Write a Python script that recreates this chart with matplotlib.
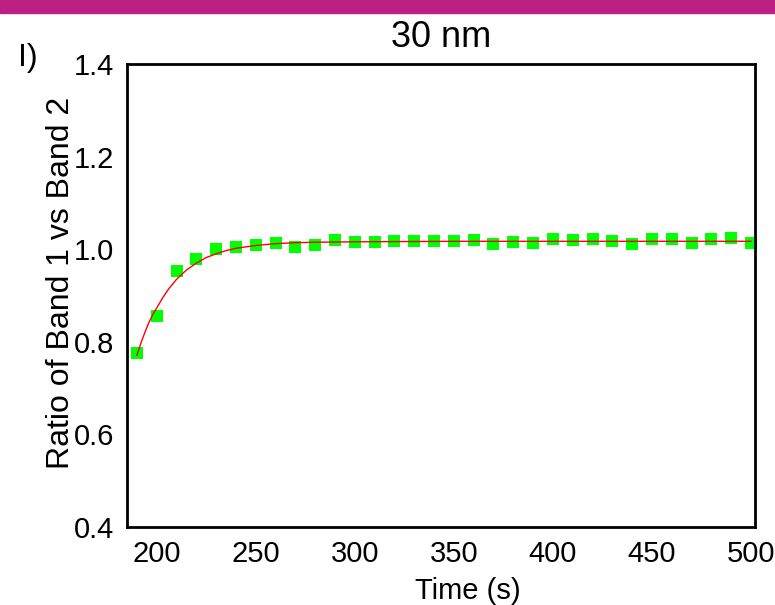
import matplotlib
matplotlib.use("Agg")
import matplotlib.pyplot as plt
from matplotlib.patches import Rectangle

plt.rcParams['font.family'] = ['Liberation Sans', 'DejaVu Sans']

# Data
time_s = [190, 200, 210, 220, 230, 240, 250, 260, 270, 280, 290, 300, 310, 320,
          330, 340, 350, 360, 370, 380, 390, 400, 410, 420, 430, 440, 450, 460,
          470, 480, 490, 500]
ratio = [0.776, 0.856, 0.953, 0.979, 1.000, 1.005, 1.009, 1.013, 1.005, 1.009,
         1.020, 1.016, 1.016, 1.018, 1.018, 1.018, 1.018, 1.019, 1.011, 1.016,
         1.014, 1.023, 1.020, 1.023, 1.018, 1.011, 1.023, 1.021, 1.014, 1.021,
         1.024, 1.014]

fit_t = [190, 192, 194, 196, 198, 200, 203, 206, 210, 215, 220, 225, 230, 235,
         240, 250, 260, 270, 280, 300, 350, 400, 450, 500]
fit_v = [0.771, 0.797, 0.820, 0.841, 0.859, 0.873, 0.895, 0.914, 0.935, 0.955,
         0.970, 0.982, 0.990, 0.997, 1.002, 1.008, 1.012, 1.014, 1.015, 1.016,
         1.017, 1.017, 1.017, 1.017]

x_ticks = [200, 250, 300, 350, 400, 450, 500]
y_ticks = [0.4, 0.6, 0.8, 1.0, 1.2, 1.4]

fig = plt.figure(figsize=(7.75, 6.05), dpi=100)
fig.patches.append(Rectangle((0, 1 - 13 / 605), 1, 13 / 605, transform=fig.transFigure,
                             color='#BD2083', zorder=0))

ax = fig.add_axes([127 / 775, 78 / 605, 628 / 775, 463 / 605])
ax.plot(time_s, ratio, linestyle='none', marker='s', markersize=8.4,
        color='#00FF00', markeredgewidth=0, zorder=2, clip_on=False)
ax.plot(fit_t, fit_v, color='#FF0000', linewidth=1.0, zorder=3)

ax.set_xlim(185, 502)
ax.set_ylim(0.4, 1.4)
ax.set_xticks(x_ticks)
ax.set_yticks(y_ticks)
ax.set_yticklabels([f"{v:.1f}" for v in y_ticks])
ax.tick_params(length=0, labelsize=21, pad=9)
for s in ax.spines.values():
    s.set_linewidth(2)
    s.set_color('black')

ax.set_title("30 nm", fontsize=26, pad=12)
ax.set_xlabel("Time (s)", fontsize=21)
ax.xaxis.set_label_coords(0.543, -0.108)
ax.set_ylabel("Ratio of Band 1 vs Band 2", fontsize=23)
ax.yaxis.set_label_coords(-0.082, 0.527)
fig.text(18 / 775, 1 - 58 / 605, "I)", fontsize=23, ha='left', va='center')

fig.savefig("out.png", dpi=100)
